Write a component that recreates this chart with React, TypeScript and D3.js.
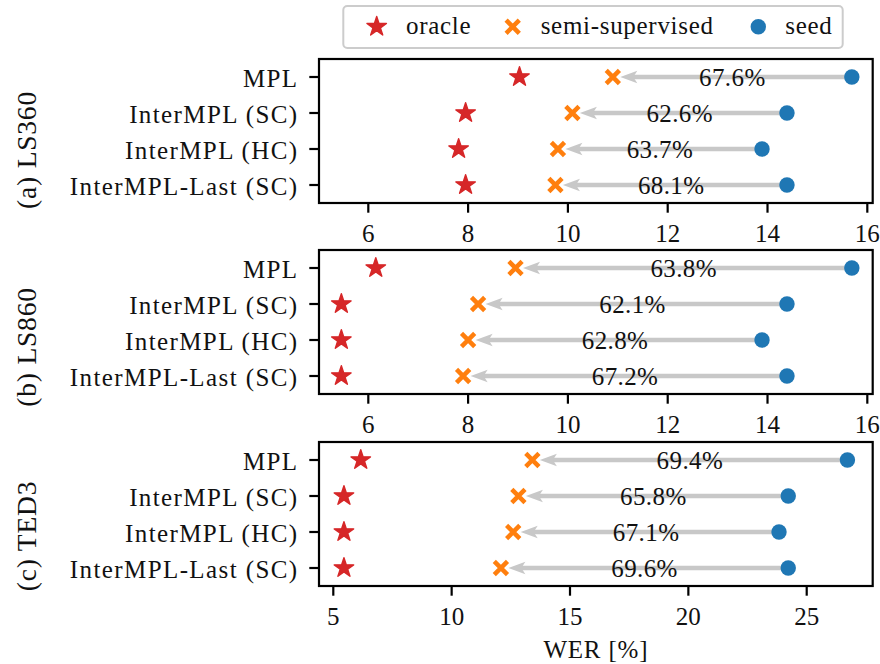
import React from 'react';
import * as d3 from 'd3';

// rows, top to bottom
const categories = ['MPL', 'InterMPL (SC)', 'InterMPL (HC)', 'InterMPL-Last (SC)'];

// WER values
const ls360Oracle = [9.03, 7.95, 7.81, 7.95];
const ls360Semi = [10.9, 10.09, 9.8, 9.75];
const ls360Seed = [15.69, 14.39, 13.89, 14.39];
const ls360Gain = ['67.6%', '62.6%', '63.7%', '68.1%'];

const ls860Oracle = [6.15, 5.46, 5.46, 5.46];
const ls860Semi = [8.95, 8.2, 8.0, 7.9];
const ls860Seed = [15.69, 14.39, 13.89, 14.39];
const ls860Gain = ['63.8%', '62.1%', '62.8%', '67.2%'];

const ted3Oracle = [6.16, 5.45, 5.45, 5.45];
const ted3Semi = [13.41, 12.82, 12.6, 12.08];
const ted3Seed = [26.72, 24.22, 23.83, 24.22];
const ted3Gain = ['69.4%', '65.8%', '67.1%', '69.6%'];

const lsTicks = [6, 8, 10, 12, 14, 16];
const tedTicks = [5, 10, 15, 20, 25];

const legendLabels = ['oracle', 'semi-supervised', 'seed'];

const RED = '#d62728';
const ORANGE = '#ff7f0e';
const BLUE = '#1f77b4';
const GRAY = '#c8c8c8';
const FONT = 'Liberation Serif, DejaVu Serif';

const plotLeft = 319;
const plotRight = 872.7;
const plotH = 144;

const panels = [
  { title: '(a) LS360', top: 59, titleY: 150, oracle: ls360Oracle, semi: ls360Semi, seed: ls360Seed, gain: ls360Gain, domain: [5.012, 16.108], ticks: lsTicks },
  { title: '(b) LS860', top: 250, titleY: 347, oracle: ls860Oracle, semi: ls860Semi, seed: ls860Seed, gain: ls860Gain, domain: [5.012, 16.108], ticks: lsTicks },
  { title: '(c) TED3', top: 442, titleY: 536, oracle: ted3Oracle, semi: ted3Semi, seed: ted3Seed, gain: ted3Gain, domain: [4.396, 27.788], ticks: tedTicks },
];

const starPath = d3.symbol(d3.symbolStar, 118)() as string;
const crossPath = 'M-6.6,-6.6L6.6,6.6M-6.6,6.6L6.6,-6.6';

const Star = ({ cx, cy }: { cx: number; cy: number }) => (
  <path d={starPath} transform={`translate(${cx},${cy})`} fill={RED} stroke={RED} strokeWidth={1.4} strokeLinejoin="round" />
);
const Cross = ({ cx, cy }: { cx: number; cy: number }) => (
  <path d={crossPath} transform={`translate(${cx},${cy})`} stroke={ORANGE} strokeWidth={4.5} fill="none" />
);
const Dot = ({ cx, cy }: { cx: number; cy: number }) => (
  <circle cx={cx} cy={cy} r={7.7} fill={BLUE} />
);

function Panel({ p, showXLabel }: { p: any; showXLabel: boolean }) {
  const x = d3.scaleLinear().domain(p.domain).range([plotLeft, plotRight]);
  const y = d3.scaleLinear().domain([-0.5, 3.5]).range([p.top, p.top + plotH]);
  const bottom = p.top + plotH;

  return (
    <g>
      {/* arrows seed -> semi */}
      {categories.map((c, i) => {
        const tip = x(p.semi[i]) + 7.5;
        const yy = y(i);
        return (
          <g key={'a' + c}>
            <line x1={x(p.seed[i])} x2={tip + 12} y1={yy} y2={yy} stroke={GRAY} strokeWidth={4.3} />
            <path d={`M${tip},${yy}L${tip + 17},${yy - 6.3}L${tip + 13},${yy}L${tip + 17},${yy + 6.3}Z`} fill={GRAY} />
          </g>
        );
      })}
      {categories.map((c, i) => (
        <text key={'g' + c} x={(x(p.semi[i]) + x(p.seed[i])) / 2} y={y(i) + 8.5} textAnchor="middle" fontFamily={FONT} fontSize={25} letterSpacing={0.4} fill="#111">
          {p.gain[i]}
        </text>
      ))}
      {categories.map((c, i) => <Star key={'o' + c} cx={x(p.oracle[i])} cy={y(i)} />)}
      {categories.map((c, i) => <Cross key={'s' + c} cx={x(p.semi[i])} cy={y(i)} />)}
      {categories.map((c, i) => <Dot key={'d' + c} cx={x(p.seed[i])} cy={y(i)} />)}

      {/* frame */}
      <rect x={plotLeft} y={p.top} width={plotRight - plotLeft} height={plotH} fill="none" stroke="#000" strokeWidth={2.2} />

      {/* y ticks */}
      {categories.map((c, i) => (
        <g key={'y' + c}>
          <line x1={plotLeft - 9.7} x2={plotLeft} y1={y(i)} y2={y(i)} stroke="#000" strokeWidth={2.2} />
          <text x={plotLeft - 20.5} y={y(i) + 9.5} textAnchor="end" fontFamily={FONT} fontSize={25} letterSpacing={1.4} fill="#111">
            {c}
          </text>
        </g>
      ))}

      {/* x ticks */}
      {p.ticks.map((t: number) => (
        <g key={'x' + t}>
          <line x1={x(t)} x2={x(t)} y1={bottom} y2={bottom + 9.7} stroke="#000" strokeWidth={2.2} />
          <text x={x(t)} y={bottom + 38.5} textAnchor="middle" fontFamily={FONT} fontSize={25} fill="#111">
            {t}
          </text>
        </g>
      ))}

      <text
        transform={`translate(36,${p.titleY}) rotate(-90)`}
        textAnchor="middle"
        fontFamily={FONT}
        fontSize={27.5}
        letterSpacing={0.8}
        fill="#111"
      >
        {p.title}
      </text>

      {showXLabel && (
        <text x={(plotLeft + plotRight) / 2} y={658} textAnchor="middle" fontFamily={FONT} fontSize={25} letterSpacing={0.8} fill="#111">
          WER [%]
        </text>
      )}
    </g>
  );
}

function Legend() {
  const markerX = [376.7, 512.7, 758.3];
  const textX = [406, 540.7, 785.3];
  const cy = 26.7;
  return (
    <g>
      <rect x={343.3} y={6} width={499.4} height={42} rx={4} fill="#fff" fillOpacity={0.8} stroke="#cccccc" strokeWidth={2} />
      <Star cx={markerX[0]} cy={cy} />
      <Cross cx={markerX[1]} cy={cy} />
      <Dot cx={markerX[2]} cy={cy} />
      {legendLabels.map((l, i) => (
        <text key={l} x={textX[i]} y={34.3} fontFamily={FONT} fontSize={25} letterSpacing={0.7} fill="#111">
          {l}
        </text>
      ))}
    </g>
  );
}

export default function App() {
  return (
    <svg
      width={880}
      height={664}
      viewBox="0 0 880 664"
      style={{ position: 'absolute', left: 0, top: 0, background: '#fff' }}
    >
      <rect width={880} height={664} fill="#fff" />
      {panels.map((p, k) => (
        <Panel key={p.title} p={p} showXLabel={k === panels.length - 1} />
      ))}
      <Legend />
    </svg>
  );
}
